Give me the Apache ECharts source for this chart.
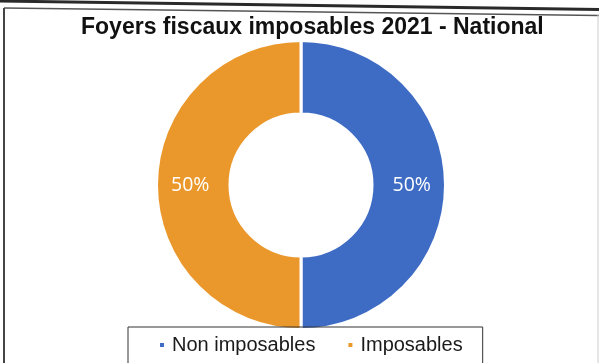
<!DOCTYPE html>
<html>
<head>
<meta charset="utf-8">
<style>
  html, body { margin: 0; padding: 0; background: #ffffff; }
  #chart { width: 599px; height: 363px; }
</style>
<script src="https://cdn.jsdelivr.net/npm/echarts@6/dist/echarts.min.js"></script>
</head>
<body>
<div id="chart"></div>
<script>
// Share of tax households, 2021, national level
const categories = ['Non imposables', 'Imposables'];
const shares = [50, 50];
const sliceColors = ['#3e6bc4', '#ea982b'];

const chart = echarts.init(document.getElementById('chart'), null, { renderer: 'canvas' });

chart.setOption({
  backgroundColor: '#ffffff',
  animation: false,
  title: {
    text: 'Foyers fiscaux imposables 2021 - National',
    left: 81,
    top: 16,
    padding: 0,
    textStyle: {
      fontFamily: 'Liberation Sans, Arial, sans-serif',
      fontWeight: 'bold',
      fontSize: 23,
      color: '#111111'
    }
  },
  legend: {
    data: categories,
    left: 128,
    top: 327,
    orient: 'horizontal',
    icon: 'rect',
    itemWidth: 6,
    itemHeight: 6,
    itemGap: 31,
    padding: [8, 20, 30, 30],
    borderColor: '#333333',
    borderWidth: 1,
    textStyle: {
      fontFamily: 'Liberation Sans, Arial, sans-serif',
      fontSize: 20,
      color: '#1a1a1a',
      padding: [0, 0, 0, 2]
    }
  },
  graphic: [
    // frame edges of the surrounding box
    { type: 'line', shape: { x1: 0, y1: 1, x2: 599, y2: 9.5 }, style: { stroke: '#2a2a2a', lineWidth: 3 }, silent: true },
    { type: 'line', shape: { x1: 4, y1: 8, x2: 599, y2: 15.5 }, style: { stroke: '#555555', lineWidth: 1.5 }, silent: true },
    { type: 'line', shape: { x1: 4, y1: 8, x2: 4, y2: 363 }, style: { stroke: '#444444', lineWidth: 2 }, silent: true },
    { type: 'line', shape: { x1: 598, y1: 15, x2: 598, y2: 363 }, style: { stroke: '#cccccc', lineWidth: 1 }, silent: true }
  ],
  series: [{
    type: 'pie',
    center: [301, 185],
    radius: [71, 144.5],
    startAngle: 90,
    clockwise: true,
    avoidLabelOverlap: false,
    itemStyle: { borderColor: '#ffffff', borderWidth: 3 },
    label: {
      show: true,
      position: 'inside',
      formatter: '{d}%',
      fontFamily: 'Open Sans, sans-serif',
      fontSize: 19.5,
      color: '#ffffff'
    },
    labelLine: { show: false },
    emphasis: { disabled: true },
    data: categories.map((name, i) => ({
      name: name,
      value: shares[i],
      itemStyle: { color: sliceColors[i] }
    }))
  }]
});
</script>
</body>
</html>
